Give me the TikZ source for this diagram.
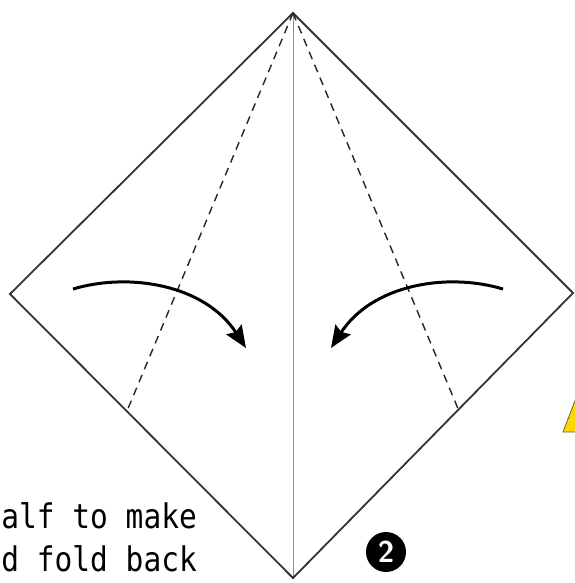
\documentclass[tikz,border=0pt]{standalone}
\usepackage{fontspec}
\newfontfamily\monofont{DejaVu Sans Mono}
\usetikzlibrary{arrows.meta}
\tikzset{
  edge/.style={draw=black!80, line width=1.8pt},
  crease/.style={draw=black!45, line width=1pt},
  foldline/.style={draw=black!85, line width=1.4pt, dash pattern=on 8pt off 6pt},
  foldarrow/.style={draw=black, line width=3pt, -{Stealth[length=22pt,width=18pt,inset=3pt]}},
  lbl/.style={font=\monofont\fontsize{29.5}{30}\selectfont, inner sep=0pt, anchor=base east, yscale=1.15}
}
\begin{document}
\begin{tikzpicture}[x=1pt,y=-1pt]
\useasboundingbox (0,0) rectangle (574,583);
\fill[white] (0,0) rectangle (574,583);
% corners
\coordinate (T) at (293,13);
\coordinate (L) at (10,294);
\coordinate (R) at (573,293);
\coordinate (B) at (293,578);
\coordinate (DL) at (127,411);
\coordinate (DR) at (459,411);
% yellow piece at right edge
\fill[yellow!75!orange, draw=black!70!yellow, line width=0.8pt] (576,398) -- (563,432) -- (576,432) -- cycle;
% diamond
\draw[crease] (T) -- (B);
\draw[edge, line join=miter] (T) -- (R) -- (B) -- (L) -- cycle;
\draw[foldline] (T) -- (DL);
\draw[foldline] (T) -- (DR);
% arrows
\coordinate (a1) at (73,289);
\coordinate (a2) at (246,348);
\coordinate (b1) at (503,289);
\coordinate (b2) at (331,348);
\draw[foldarrow] (a1) .. controls (130,272) and (205,285) .. (a2);
\draw[foldarrow] (b1) .. controls (446,272) and (372,285) .. (b2);
% step number
\node[circle, fill=black, minimum size=40pt, inner sep=0pt, text=white,
      font=\sffamily\bfseries\fontsize{30}{30}\selectfont] (num) at (386,552) {2};
% text
\node[lbl] (t1) at (197,528) {alf to make};
\node[lbl] (t2) at (197,571) {d fold back};
\end{tikzpicture}
\end{document}
